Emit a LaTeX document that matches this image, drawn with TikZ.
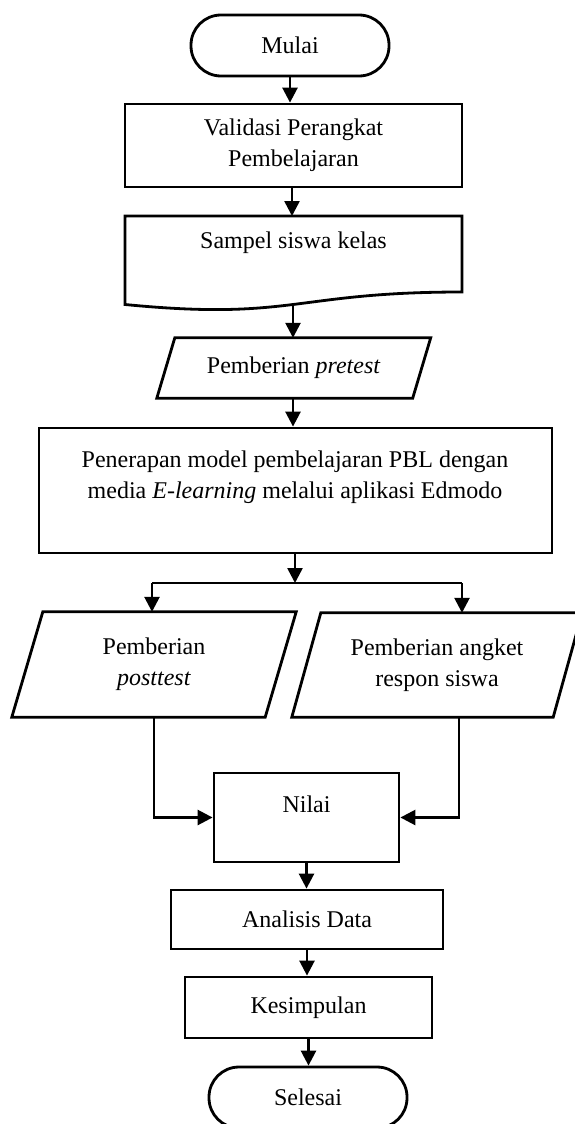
\documentclass[tikz,border=0pt]{standalone}
\usepackage{fontspec}
\setmainfont{Liberation Serif}
\usetikzlibrary{arrows.meta}
\begin{document}
\begin{tikzpicture}[x=1pt,y=-1pt,
  box/.style={draw, line width=2.8pt, rectangle, inner sep=0pt},
  term/.style={box, rounded corners=30pt},
  txt/.style={align=center, inner sep=0pt, font=\fontsize{24}{31}\selectfont},
  arr/.style={line width=2.6pt, -{Triangle[width=15pt,length=15pt]}},
  conn/.style={line width=2.6pt},
  outline/.style={draw, line width=2.8pt, line join=miter},
  hold/.style={inner sep=0pt, align=center, font=\fontsize{24}{31}\selectfont}
]
\useasboundingbox (0,0) rectangle (574,1124);

% start
\node[term, txt, minimum width=198pt, minimum height=61pt] (mulai) at (290,45.5) {Mulai};

% validation
\node[box, txt, minimum width=337pt, minimum height=83pt] (valid) at (293.5,145.5) {Validasi Perangkat\\Pembelajaran};

% document shape
\draw[outline] (125,216) -- (462,216) -- (462,292) .. controls (293.5,292) and (293.5,321) .. (125,304.5) -- cycle;
\node[txt] (samp) at (293.5,243) {Sampel siswa kelas};
\coordinate (sampbot) at (293,304.4);

% pretest
\node[hold, minimum width=255.5pt, minimum height=60pt] (pre) at (293.75,368) {Pemberian \textit{pretest}};
\draw[outline] ([xshift=9pt]pre.north west) -- ([xshift=9pt]pre.north east) -- ([xshift=-9pt]pre.south east) -- ([xshift=-9pt]pre.south west) -- cycle;

% treatment
\node[box, minimum width=513pt, minimum height=125pt] (pen) at (295.5,490.5) {};
\node[txt] (pentxt) at (295,477) {Penerapan model pembelajaran PBL dengan\\media \textit{E-learning} melalui aplikasi Edmodo};

% branches
\coordinate (j) at (295,583);
\coordinate (jl) at (152,583);
\coordinate (jr) at (462,583);

\node[hold, minimum width=253pt, minimum height=105pt] (post) at (154,664.5) {Pemberian\\\textit{posttest}};
\draw[outline] ([xshift=15.5pt]post.north west) -- ([xshift=15.5pt]post.north east) -- ([xshift=-15.5pt]post.south east) -- ([xshift=-15.5pt]post.south west) -- cycle;

\node[hold, minimum width=261pt, minimum height=104pt] (resp) at (437,665) {Pemberian angket\\respon siswa};
\draw[outline] ([xshift=14.5pt]resp.north west) -- ([xshift=14.5pt]resp.north east) -- ([xshift=-14.5pt]resp.south east) -- ([xshift=-14.5pt]resp.south west) -- cycle;

% result
\node[box, minimum width=185pt, minimum height=89pt] (nilai) at (306.5,817.5) {};
\node[txt] (nilaitxt) at (306.5,804) {Nilai};

\node[box, txt, minimum width=272pt, minimum height=59pt] (ana) at (307,919.5) {Analisis Data};
\node[box, txt, minimum width=247pt, minimum height=61pt] (kes) at (308.5,1007.5) {Kesimpulan};
\node[term, txt, minimum width=198pt, minimum height=61pt] (sel) at (308,1097.5) {Selesai};

% connectors
\draw[arr] (mulai.south) -- (mulai.south |- valid.north);
\draw[arr] ([xshift=-1.5pt]valid.south) -- ([xshift=-1.5pt]valid.south |- 0,216);
\draw[arr] (sampbot) -- (sampbot |- pre.north);
\draw[arr] ([xshift=-0.75pt]pre.south) -- ([xshift=-0.75pt]pre.south |- pen.north);
\draw[arr] (pen.south -| j) -- (j);
\draw[conn] (jl) -- (jr);
\draw[arr] (jl) -- (jl |- post.north);
\draw[arr] (jr) -- (jr |- resp.north);
\draw[arr] (post.south) |- (nilai.west);
\draw[arr] ([xshift=22pt]resp.south) |- (nilai.east);
\draw[arr] (nilai.south) -- (nilai.south |- ana.north);
\draw[arr] (ana.south) -- (ana.south |- kes.north);
\draw[arr] (kes.south) -- (kes.south |- sel.north);
\end{tikzpicture}
\end{document}
